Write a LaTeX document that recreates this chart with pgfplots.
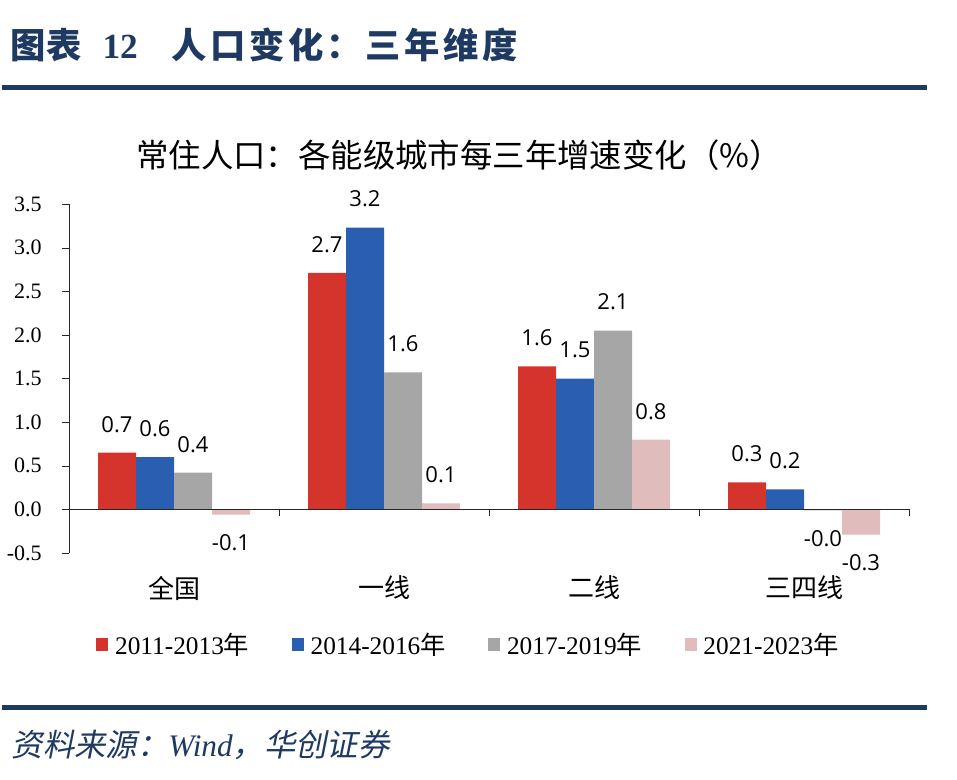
\documentclass[border=0pt]{standalone}
\usepackage{fontspec}
\usepackage{pgfplots}
\usepackage{pgfplotstable}
\pgfplotsset{compat=1.18}
\setmainfont{Liberation Serif}
\newfontfamily\cjk{Noto Sans CJK SC}
\newfontfamily\cjkit[FakeSlant=0.2]{Noto Sans CJK SC}
\newfontfamily\lab{Open Sans}

\definecolor{cRed}{RGB}{212,52,44}
\definecolor{cBlue}{RGB}{42,94,176}
\definecolor{cGray}{RGB}{166,166,166}
\definecolor{cPink}{RGB}{224,188,188}
\definecolor{navy}{RGB}{31,58,98}

% 0 = 全国, 1 = 一线, 2 = 二线, 3 = 三四线
\pgfplotstableread{
x y lab
0 0.65 0.7
1 2.71 2.7
2 1.64 1.6
3 0.31 0.3
}\tA
\pgfplotstableread{
x y lab
0 0.60 0.6
1 3.23 3.2
2 1.50 1.5
3 0.23 0.2
}\tB
\pgfplotstableread{
x y lab
0 0.42 0.4
1 1.57 1.6
2 2.05 2.1
3 -0.01 -0.0
}\tC
\pgfplotstableread{
x y lab
0 -0.06 -0.1
1 0.07 0.1
2 0.80 0.8
3 -0.29 -0.3
}\tD

\begin{document}
\begin{tikzpicture}
\begin{scope}[x=0.75pt,y=-0.75pt]
  \path (0,0) rectangle (957,779);
  \node[anchor=west, text=navy, font=\cjk\bfseries\fontsize{26.5}{28}\selectfont] at (6,45)
    {图表\hspace{0.6em}{\rmfamily\bfseries 12}\hspace{0.95em}{\addfontfeature{LetterSpace=10}人口变化：三年维度}};
  \fill[navy] (2,85) rectangle (927,89.5);
  \node[font=\cjk\fontsize{24.3}{26}\selectfont] at (459,155)
    {常住人口：各能级城市每三年增速变化（\%）};
  \fill[navy] (2,705) rectangle (927,709.5);
  \node[anchor=west, text=navy, font=\cjkit\fontsize{23.5}{25}\selectfont] at (7,745)
    {资料来源：{\rmfamily\itshape Wind}，华创证券};
\end{scope}

\begin{axis}[
  at={(51.75pt,-414.75pt)}, anchor=south west,
  scale only axis, width=630pt, height=261.75pt,
  xmin=-0.5, xmax=3.5, ymin=-0.5, ymax=3.5,
  clip=false,
  ybar=0pt, bar width=28.5pt,
  axis x line*=bottom, axis y line*=left,
  x axis line style={draw=none},
  y axis line style={-, black!85},
  xtick={0,1,2,3},
  xticklabels={全国,一线,二线,三四线},
  xticklabel style={font=\cjk\fontsize{19.5}{20}\selectfont, anchor=center, yshift=-21pt},
  major x tick style={draw=none},
  ytick={-0.5,0,0.5,1,1.5,2,2.5,3,3.5},
  yticklabel={\pgfmathprintnumber[fixed,fixed zerofill,precision=1,assume math mode=true]{\tick}},
  yticklabel style={font=\fontsize{16.5}{17}\selectfont, anchor=east, inner sep=0pt, xshift=-15pt},
  tick align=outside, major tick length=5.25pt,
  major y tick style={black!85},
  point meta=explicit symbolic,
  visualization depends on={rawy \as \yval},
  nodes near coords,
  every node near coord/.append style={
    /utils/exec={\ifdim\yval pt<0pt \def\nnanchor{north}\else\def\nnanchor{south}\fi},
    anchor=\nnanchor,
    font=\lab\fontsize{16.5}{17}\selectfont, text=black,
    inner xsep=0pt, inner ysep=15pt},
  legend columns=4,
  legend style={draw=none, at={(0.476,-0.264)}, anchor=center,
    font=\fontsize{19}{20}\selectfont,
    /tikz/every odd column/.append style={column sep=3pt},
    /tikz/every even column/.append style={column sep=30pt}},
  legend image code/.code={\fill[#1] (0pt,-4.4pt) rectangle (9pt,5.4pt);},
]
\addplot[fill=cRed, draw=none] table[x=x, y=y, meta=lab] {\tA};
\addlegendentry{2011-2013{\cjk 年}}
\addplot[fill=cBlue, draw=none] table[x=x, y=y, meta=lab] {\tB};
\addlegendentry{2014-2016{\cjk 年}}
\addplot[fill=cGray, draw=none] table[x=x, y=y, meta=lab] {\tC};
\addlegendentry{2017-2019{\cjk 年}}
\addplot[fill=cPink, draw=none] table[x=x, y=y, meta=lab] {\tD};
\addlegendentry{2021-2023{\cjk 年}}
\draw[black!85] (axis cs:-0.5,0) -- (axis cs:3.5,0);
\pgfplotsinvokeforeach{0.5,1.5,2.5,3.5}{\draw[black!85] (axis cs:#1,0) -- ++(0pt,-5.25pt);}
\end{axis}
\end{tikzpicture}
\end{document}
